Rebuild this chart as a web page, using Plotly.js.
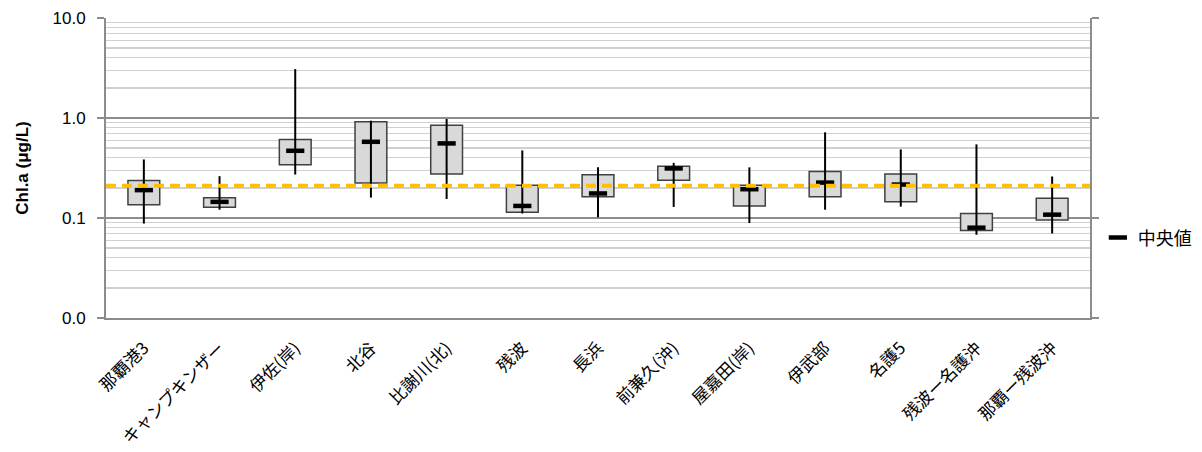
<!DOCTYPE html>
<html>
<head>
<meta charset="utf-8">
<script src="https://cdn.plot.ly/plotly-3.0.1.min.js"></script>
<style>
  html, body { margin: 0; padding: 0; background: #ffffff; }
  #chart { width: 1202px; height: 452px; }
</style>
</head>
<body>
<div id="chart"></div>
<script>
// ---- data ----
const categories = ['那覇港3', 'キャンプキンザー', '伊佐(岸)', '北谷', '比謝川(北)', '残波', '長浜',
                    '前兼久(沖)', '屋嘉田(岸)', '伊武部', '名護5', '残波ー名護沖', '那覇ー残波沖'];
const whiskerMax = [0.385, 0.262, 3.08, 0.94, 0.977, 0.474, 0.321, 0.356, 0.321, 0.719, 0.485, 0.545, 0.260];
const q3         = [0.237, 0.159, 0.611, 0.918, 0.845, 0.213, 0.270, 0.330, 0.213, 0.292, 0.276, 0.111, 0.158];
const medians    = [0.190, 0.145, 0.470, 0.578, 0.557, 0.132, 0.176, 0.313, 0.194, 0.226, 0.216, 0.080, 0.108];
const q1         = [0.136, 0.128, 0.340, 0.224, 0.276, 0.114, 0.163, 0.239, 0.132, 0.163, 0.145, 0.075, 0.0955];
const whiskerMin = [0.088, 0.121, 0.272, 0.160, 0.155, 0.111, 0.102, 0.129, 0.089, 0.121, 0.130, 0.068, 0.070];
const referenceValue = 0.21;
const yTickVals = [0.01, 0.1, 1, 10];
const yTickText = ['0.0', '0.1', '1.0', '10.0'];
const medianLabel = '中央値';
const yTitle = 'Chl.a (μg/L)';

// ---- build traces ----
const wx = [], wy = [];
categories.forEach((c, i) => {
  wx.push(c, c, null);
  wy.push(whiskerMin[i], whiskerMax[i], null);
});

const whiskers = {
  type: 'scatter', mode: 'lines', x: wx, y: wy,
  line: { color: '#000000', width: 2 },
  showlegend: false, hoverinfo: 'skip', connectgaps: false
};

const boxes = {
  type: 'bar', x: categories,
  y: q3.map((v, i) => v - q1[i]),
  base: q1,
  width: 0.42,
  marker: { color: '#D9D9D9', line: { color: '#404040', width: 1.5 } },
  showlegend: false, hoverinfo: 'skip'
};

const medianTrace = {
  type: 'scatter', mode: 'markers', x: categories, y: medians,
  name: medianLabel,
  marker: { symbol: 'line-ew', size: 13, color: '#000000', line: { color: '#000000', width: 4.5 } },
  showlegend: true
};

// minor gridline positions (2..9 in each decade) - axis styling only
const minorVals = [];
[0.01, 0.1, 1].forEach(d => { for (let k = 2; k <= 9; k++) minorVals.push(+(d * k).toPrecision(3)); });

const layout = {
  width: 1202, height: 452,
  margin: { l: 106, r: 112, t: 18, b: 134, autoexpand: false },
  paper_bgcolor: '#ffffff', plot_bgcolor: '#ffffff',
  font: { family: '"Noto Sans CJK JP", "Noto Sans", sans-serif', color: '#000000' },
  showlegend: true,
  legend: {
    x: 1.008, xanchor: 'left', xref: 'paper',
    y: 0.267, yanchor: 'middle',
    font: { size: 18, family: '"Noto Sans CJK JP", sans-serif', color: '#000000' },
    bgcolor: 'rgba(0,0,0,0)', itemwidth: 30
  },
  xaxis: {
    type: 'category', range: [-0.5, categories.length - 0.5],
    showgrid: false, zeroline: false, automargin: false,
    showline: true, linecolor: '#8C8C8C', linewidth: 1.5,
    ticks: '', tickangle: -45, ticklabelstandoff: 12,
    tickfont: { size: 17, family: '"Noto Sans CJK JP", sans-serif', color: '#000000' },
    fixedrange: true
  },
  yaxis: {
    type: 'log', range: [-2, 1], automargin: false,
    tickmode: 'array', tickvals: yTickVals, ticktext: yTickText,
    ticks: 'outside', ticklen: 7, tickcolor: '#8C8C8C', tickwidth: 1.5,
    ticklabelstandoff: 8,
    tickfont: { size: 17, family: '"Liberation Sans", Arial, sans-serif', color: '#000000' },
    showgrid: true, gridcolor: '#8C8C8C', gridwidth: 1.5,
    minor: { tickmode: 'array', tickvals: minorVals, showgrid: true, gridcolor: '#D0D0D0', gridwidth: 1.3, ticks: '' },
    showline: true, linecolor: '#8C8C8C', linewidth: 2,
    zeroline: false,
    title: { text: yTitle, font: { size: 17, family: '"Liberation Sans", Arial, sans-serif', color: '#000000', weight: 'bold' }, standoff: 20 },
    fixedrange: true
  },
  yaxis2: {
    type: 'log', range: [-2, 1], overlaying: 'y', side: 'right', automargin: false,
    tickmode: 'array', tickvals: yTickVals, ticktext: yTickText,
    showticklabels: false, ticks: 'outside', ticklen: 7, tickcolor: '#8C8C8C', tickwidth: 1.5,
    showgrid: false, showline: true, linecolor: '#8C8C8C', linewidth: 2, zeroline: false,
    fixedrange: true
  },
  shapes: [{
    type: 'line', xref: 'paper', yref: 'y', x0: 0, x1: 1,
    y0: referenceValue, y1: referenceValue,
    line: { color: '#FFC000', width: 4, dash: '10px,6px' }, layer: 'above'
  }]
};

// dummy trace to activate yaxis2
const y2trace = { type: 'scatter', mode: 'none', x: [categories[0]], y: [referenceValue], yaxis: 'y2', showlegend: false, hoverinfo: 'skip' };

Plotly.newPlot('chart', [whiskers, boxes, medianTrace, y2trace], layout, { displayModeBar: false, staticPlot: true });
</script>
</body>
</html>
